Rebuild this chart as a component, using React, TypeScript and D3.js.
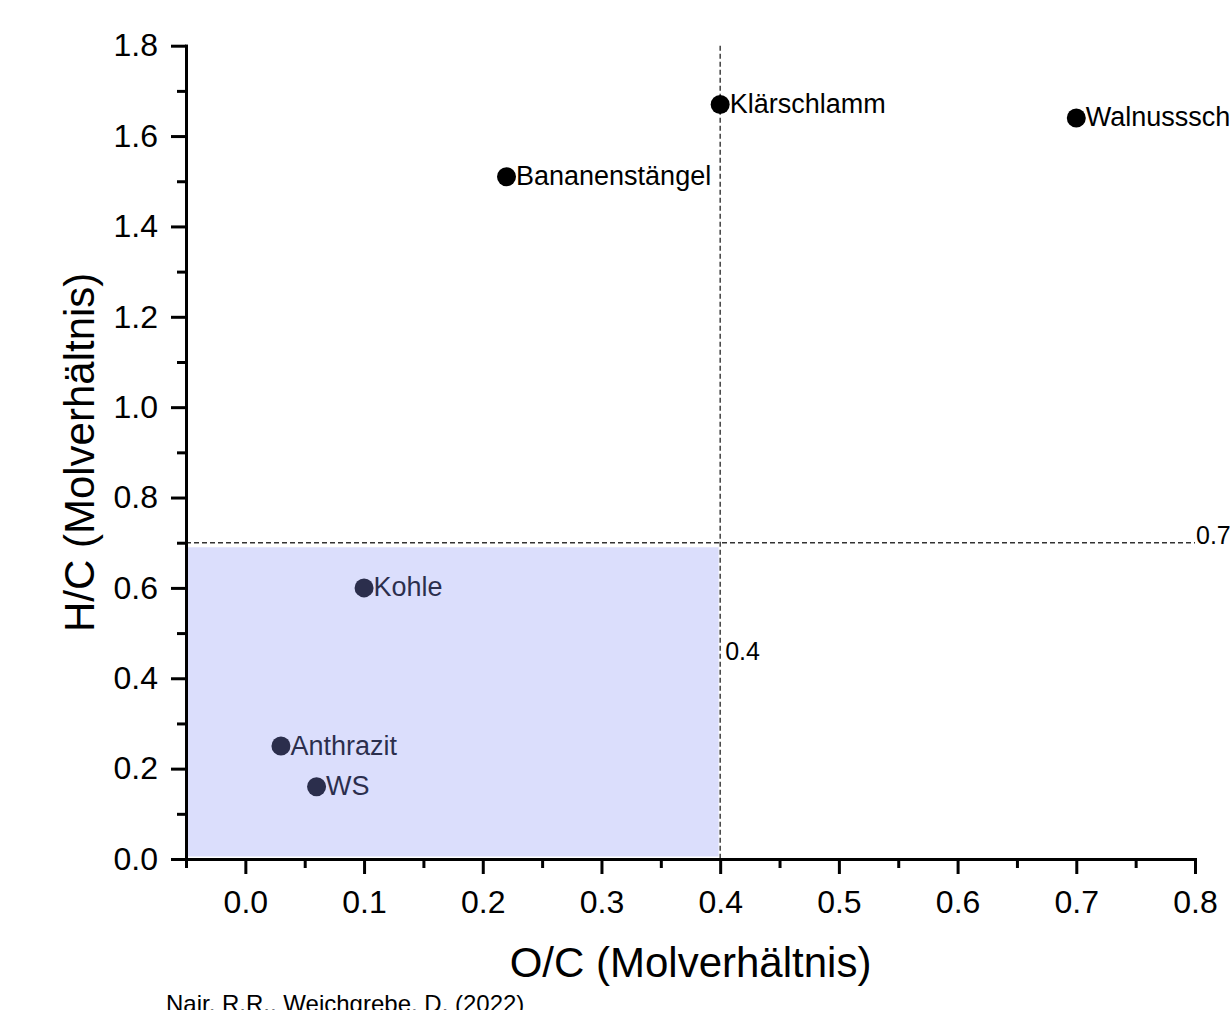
import React, { useEffect, useRef } from "react";
import * as d3 from "d3";

// sample names with their O/C and H/C molar ratios
const names = ["Bananenstängel", "Klärschlamm", "Walnussschale", "Kohle", "Anthrazit", "WS"];
const ocValues = [0.22, 0.4, 0.7, 0.1, 0.03, 0.06];
const hcValues = [1.51, 1.67, 1.64, 0.6, 0.25, 0.16];

const xTicks = [0, 0.1, 0.2, 0.3, 0.4, 0.5, 0.6, 0.7, 0.8];
const xMinorTicks = [-0.05, 0.05, 0.15, 0.25, 0.35, 0.45, 0.55, 0.65, 0.75];
const yTicks = [0, 0.2, 0.4, 0.6, 0.8, 1.0, 1.2, 1.4, 1.6, 1.8];
const yMinorTicks = [0.1, 0.3, 0.5, 0.7, 0.9, 1.1, 1.3, 1.5, 1.7];

// threshold lines and the shaded region
const ocLimit = 0.4;
const hcLimit = 0.7;
const boxTop = 0.69;
const ocLabelAt = 0.44;

const FONT = "'Liberation Sans', Arial, sans-serif";

const App = () => {
  const svgEl = useRef<SVGSVGElement | null>(null);

  useEffect(() => {
    if (!svgEl.current) return;
    drawChartOn(svgEl.current);
  }, [svgEl]);

  return (
    <svg
      ref={svgEl}
      width={1230}
      height={1010}
      style={{ position: "absolute", left: 0, top: 0, display: "block", background: "#fff" }}
    ></svg>
  );
};

function drawChartOn(el: SVGSVGElement) {
  const svg = d3.select(el);
  svg.selectAll("*").remove();

  const x = d3.scaleLinear().domain([-0.05, 0.8]).range([186, 1195]);
  const y = d3.scaleLinear().domain([0, 1.8]).range([859, 45.7]);

  // dashed threshold lines
  svg
    .append("line")
    .attr("x1", x(-0.05))
    .attr("x2", x(0.8))
    .attr("y1", y(hcLimit))
    .attr("y2", y(hcLimit))
    .attr("stroke", "#333")
    .attr("stroke-width", 1.4)
    .attr("stroke-dasharray", "5,3");
  svg
    .append("line")
    .attr("x1", x(ocLimit))
    .attr("x2", x(ocLimit))
    .attr("y1", y(1.8))
    .attr("y2", y(0))
    .attr("stroke", "#333")
    .attr("stroke-width", 1.4)
    .attr("stroke-dasharray", "5,3");

  // points
  const pts = svg
    .append("g")
    .selectAll("g")
    .data(names.map((n, i) => ({ name: n, oc: ocValues[i], hc: hcValues[i] })))
    .enter()
    .append("g");
  pts
    .append("circle")
    .attr("cx", (d) => x(d.oc))
    .attr("cy", (d) => y(d.hc))
    .attr("r", 9.5)
    .attr("fill", "#000");
  pts
    .append("text")
    .attr("x", (d) => x(d.oc) + 9.5)
    .attr("y", (d) => y(d.hc) + 8.5)
    .attr("font-family", FONT)
    .attr("font-size", 27)
    .attr("fill", "#000")
    .text((d) => d.name);

  // shaded region (semi transparent overlay)
  svg
    .append("rect")
    .attr("x", x(-0.05))
    .attr("y", y(boxTop))
    .attr("width", x(ocLimit) - x(-0.05) - 1.5)
    .attr("height", y(0) - y(boxTop) - 2.5)
    .attr("fill", "rgb(140,147,245)")
    .attr("fill-opacity", 0.31);

  // threshold labels
  svg
    .append("text")
    .attr("x", x(0.8) + 1)
    .attr("y", y(hcLimit) + 1)
    .attr("font-family", FONT)
    .attr("font-size", 25)
    .text("0.7");
  svg
    .append("text")
    .attr("x", x(ocLimit) + 5)
    .attr("y", y(ocLabelAt))
    .attr("font-family", FONT)
    .attr("font-size", 25)
    .text("0.4");

  // axes
  const styleAxis = (g: d3.Selection<SVGGElement, unknown, null, undefined>) => {
    g.selectAll("path").attr("stroke-width", 3).attr("stroke-linecap", "square");
    g.selectAll("line").attr("stroke-width", 3);
    g.selectAll("text").attr("font-family", FONT).attr("font-size", 32).attr("fill", "#000");
  };

  const gxMinor = svg
    .append("g")
    .attr("transform", `translate(0,${y(0)})`)
    .call(d3.axisBottom(x).tickValues(xMinorTicks).tickSize(9).tickSizeOuter(0).tickFormat(() => ""));
  styleAxis(gxMinor);
  const gx = svg
    .append("g")
    .attr("transform", `translate(0,${y(0)})`)
    .call(
      d3
        .axisBottom(x)
        .tickValues(xTicks)
        .tickSize(15)
        .tickSizeOuter(0)
        .tickPadding(16)
        .tickFormat(d3.format(".1f") as any)
    );
  styleAxis(gx);

  const gyMinor = svg
    .append("g")
    .attr("transform", `translate(${x(-0.05)},0)`)
    .call(d3.axisLeft(y).tickValues(yMinorTicks).tickSize(9).tickSizeOuter(0).tickFormat(() => ""));
  styleAxis(gyMinor);
  const gy = svg
    .append("g")
    .attr("transform", `translate(${x(-0.05)},0)`)
    .call(
      d3
        .axisLeft(y)
        .tickValues(yTicks)
        .tickSize(15)
        .tickSizeOuter(0)
        .tickPadding(13)
        .tickFormat(d3.format(".1f") as any)
    );
  styleAxis(gy);

  // axis titles
  svg
    .append("text")
    .attr("x", (x(-0.05) + x(0.8)) / 2)
    .attr("y", 977)
    .attr("text-anchor", "middle")
    .attr("font-family", FONT)
    .attr("font-size", 42)
    .text("O/C (Molverhältnis)");
  svg
    .append("text")
    .attr("transform", `translate(94,${(y(0) + y(1.8)) / 2}) rotate(-90)`)
    .attr("text-anchor", "middle")
    .attr("font-family", FONT)
    .attr("font-size", 42)
    .text("H/C (Molverhältnis)");

  // source
  svg
    .append("text")
    .attr("x", 166)
    .attr("y", 1012)
    .attr("font-family", FONT)
    .attr("font-size", 24)
    .text("Nair, R.R., Weichgrebe, D. (2022)");
}

export default App;
